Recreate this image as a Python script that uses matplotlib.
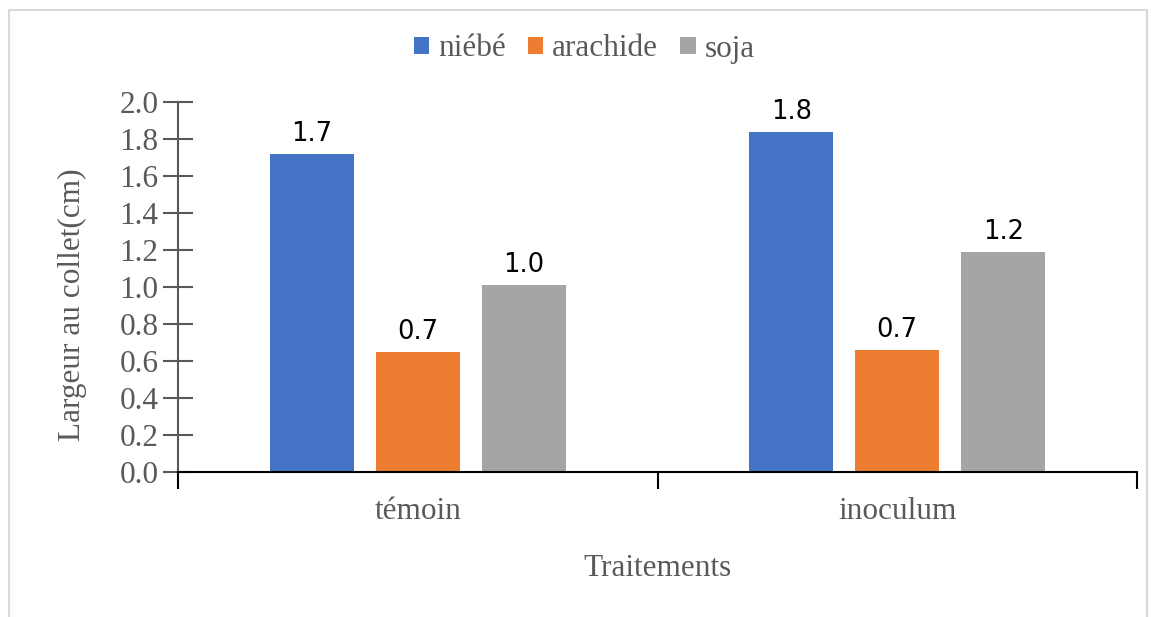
import matplotlib
matplotlib.use("Agg")
import matplotlib.pyplot as plt
from matplotlib.patches import Rectangle
import numpy as np

# Largeur au collet par traitement et par culture
traitements = ["témoin", "inoculum"]
cultures = ["niébé", "arachide", "soja"]
niebe = [1.72, 1.84]
arachide = [0.65, 0.66]
soja = [1.01, 1.19]
couleurs = ["#4472C4", "#ED7D31", "#A5A5A5"]
yticks = [0.0, 0.2, 0.4, 0.6, 0.8, 1.0, 1.2, 1.4, 1.6, 1.8, 2.0]

serif = "Liberation Serif"
gris = "#595959"
taille = 22.5

fig = plt.figure(figsize=(11.51, 6.17), dpi=100)
ax = fig.add_axes([178 / 1151, 1 - 472 / 617, (1137 - 178) / 1151, (472 - 102) / 617])

# cadre gris clair autour du graphique
fig.patches.append(Rectangle((9 / 1151, -0.01), 1138 / 1151, 1 - 10 / 617 + 0.01,
                             transform=fig.transFigure, fill=False,
                             edgecolor="#D9D9D9", linewidth=1.5))

x = np.arange(len(traitements))
largeur = 0.175
pas = 0.221
series = [niebe, arachide, soja]
for i, (nom, vals, c) in enumerate(zip(cultures, series, couleurs)):
    bars = ax.bar(x + (i - 1) * pas, vals, largeur, color=c, label=nom, zorder=3)
    for b, v in zip(bars, vals):
        ax.annotate(f"{v:.1f}", (b.get_x() + b.get_width() / 2, v),
                    xytext=(0, 5), textcoords="offset points",
                    ha="center", va="bottom", fontsize=18.5,
                    family="DejaVu Sans", color="black")

ax.set_xlim(-0.5, 1.5)
ax.set_ylim(0, 2.0)
ax.set_yticks(yticks)
ax.set_yticklabels([f"{t:.1f}" for t in yticks], family=serif, fontsize=taille, color=gris)
ax.tick_params(axis="y", direction="inout", length=22, width=1.5, color=gris, pad=3)

# graduations x aux limites des categories, libelles au centre
ax.set_xticks([-0.5, 0.5, 1.5])
ax.set_xticklabels([])
ax.set_xticks(x, minor=True)
ax.set_xticklabels(traitements, minor=True, family=serif, fontsize=taille, color=gris)
ax.tick_params(axis="x", which="major", direction="out", length=12, width=1.5, color="black")
ax.tick_params(axis="x", which="minor", length=0, pad=18)

for s in ["top", "right"]:
    ax.spines[s].set_visible(False)
ax.spines["left"].set_color(gris)
ax.spines["left"].set_linewidth(1.5)
ax.spines["bottom"].set_color("black")
ax.spines["bottom"].set_linewidth(1.5)
ax.spines["bottom"].set_zorder(4)

ax.set_xlabel("Traitements", family=serif, fontsize=taille, color=gris, labelpad=20)
ax.set_ylabel("Largeur au collet(cm)", family=serif, fontsize=taille, color=gris)
ax.yaxis.set_label_coords(-0.095, 0.452)

leg = fig.legend(loc="center", bbox_to_anchor=(584 / 1151, 1 - 49 / 617), ncol=3,
                 frameon=False, prop={"family": serif, "size": taille},
                 handlelength=0.5, handleheight=0.5, handletextpad=0.28,
                 columnspacing=0.7)
for t in leg.get_texts():
    t.set_color(gris)

fig.savefig("out.png", dpi=100)
